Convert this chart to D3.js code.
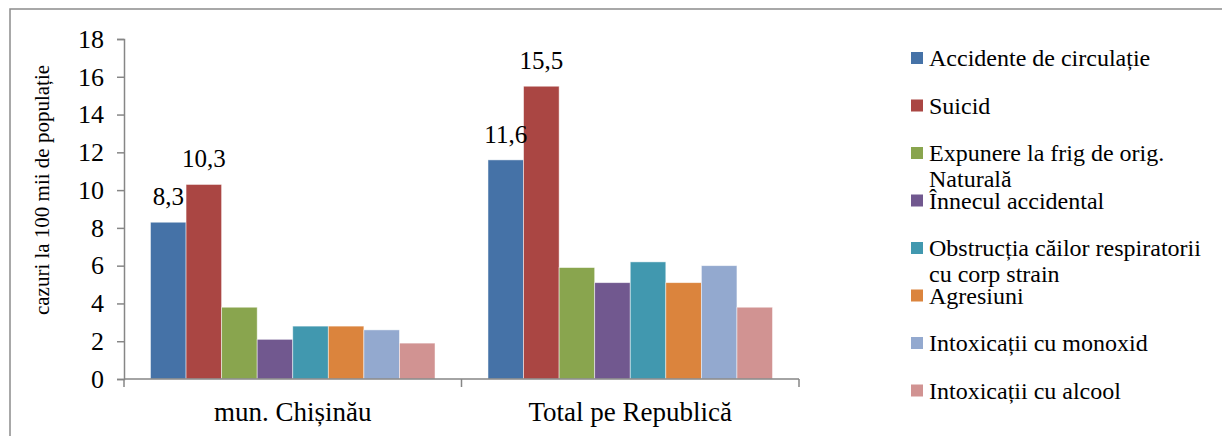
<!DOCTYPE html>
<html>
<head>
<meta charset="utf-8">
<script src="https://cdn.jsdelivr.net/npm/d3@7"></script>
<style>
  html, body { margin: 0; padding: 0; background: #fff; }
  svg { display: block; }
</style>
</head>
<body>
<svg id="s" width="1222" height="436"></svg>
<script>
// Death causes by external factors, cases per 100 thousand population
const categories = ["mun. Chișinău", "Total pe Republică"];
// legend lines (long names wrap onto two lines)
const seriesLines = [
  ["Accidente de circulație"],
  ["Suicid"],
  ["Expunere la frig de orig.", "Naturală"],
  ["Înnecul accidental"],
  ["Obstrucția căilor respiratorii", "cu corp strain"],
  ["Agresiuni"],
  ["Intoxicații cu monoxid"],
  ["Intoxicații cu alcool"]
];
const chisinau = [8.3, 10.3, 3.8, 2.1, 2.8, 2.8, 2.6, 1.9];
const republica = [11.6, 15.5, 5.9, 5.1, 6.2, 5.1, 6.0, 3.8];
// only the two leading series carry value labels
const labelledSeries = [0, 1];
const yTicks = [0, 2, 4, 6, 8, 10, 12, 14, 16, 18];
const yTitle = "cazuri la 100 mii de populație";
const colors = ["#4572A7", "#AA4643", "#89A54E", "#71588F", "#4198AF", "#DB843D", "#93A9CF", "#D19392"];

const values = [chisinau, republica];
const svg = d3.select("#s").attr("font-family", "Liberation Serif");
const axisColor = "#868686";

// every label gets the serif face both as attribute and inline style
function serif(sel, size) {
  return sel.attr("font-family", "Liberation Serif")
    .style("font-family", "Liberation Serif")
    .style("font-size", size + "px")
    .attr("fill", "#000");
}

// outer frame
svg.append("rect")
  .attr("x", 10).attr("y", 9)
  .attr("width", 1230).attr("height", 440)
  .attr("fill", "none").attr("stroke", "#8c8c8c").attr("stroke-width", 1.5);

const plot = { left: 124, right: 799, top: 39, bottom: 379 };

const y = d3.scaleLinear().domain([0, 18]).range([plot.bottom, plot.top]);
const x0 = d3.scaleBand().domain(categories).range([plot.left, plot.right])
  .paddingInner(0.157).paddingOuter(0.0785);
const x1 = d3.scaleBand().domain(d3.range(seriesLines.length)).range([0, x0.bandwidth()]);

// bars
const groups = svg.append("g").selectAll("g")
  .data(categories)
  .join("g")
  .attr("transform", d => `translate(${x0(d)},0)`);

groups.selectAll("rect")
  .data((d, ci) => values[ci].map((v, si) => ({ v, si })))
  .join("rect")
  .attr("x", d => x1(d.si))
  .attr("y", d => y(d.v))
  .attr("width", x1.bandwidth())
  .attr("height", d => y(0) - y(d.v))
  .attr("fill", d => colors[d.si])
  .attr("stroke", "#ffffff")
  .attr("stroke-opacity", 0.6)
  .attr("stroke-width", 0.8);

// value labels
serif(groups.selectAll("text.val")
  .data((d, ci) => labelledSeries.map(si => ({ v: values[ci][si], si })))
  .join("text")
  .attr("class", "val")
  .attr("x", d => x1(d.si) + x1.bandwidth() / 2)
  .attr("y", d => y(d.v) - 17)
  .attr("text-anchor", "middle")
  .text(d => d3.format(".1f")(d.v).replace(".", ",")), 25);

// y axis
const yAxis = svg.append("g")
  .attr("transform", `translate(${plot.left},0)`)
  .call(d3.axisLeft(y).tickValues(yTicks).tickSize(7).tickPadding(13).tickFormat(d3.format("d")));
yAxis.attr("font-family", "Liberation Serif").attr("font-size", 26);
yAxis.select(".domain").attr("stroke", axisColor).attr("stroke-width", 1.5);
yAxis.selectAll(".tick line").attr("stroke", axisColor).attr("stroke-width", 1.5);
serif(yAxis.selectAll(".tick text"), 26);

// x axis: baseline with tick marks at category boundaries
const xg = svg.append("g");
xg.append("line")
  .attr("x1", plot.left).attr("x2", plot.right)
  .attr("y1", y(0)).attr("y2", y(0))
  .attr("stroke", axisColor).attr("stroke-width", 1.5);
const boundaries = [plot.left, ...categories.map(c => x0(c) + x0.bandwidth() + x0.step() * x0.paddingInner() / 2)];
xg.selectAll("line.tk")
  .data(boundaries)
  .join("line")
  .attr("class", "tk")
  .attr("x1", d => d).attr("x2", d => d)
  .attr("y1", y(0)).attr("y2", y(0) + 8)
  .attr("stroke", axisColor).attr("stroke-width", 1.5);
serif(xg.selectAll("text")
  .data(categories)
  .join("text")
  .attr("x", d => x0(d) + x0.bandwidth() / 2)
  .attr("y", 421)
  .attr("text-anchor", "middle")
  .text(d => d), 27);

// y axis title
serif(svg.append("text")
  .attr("transform", `translate(49,190) rotate(-90)`)
  .attr("text-anchor", "middle")
  .text(yTitle), 21);

// legend
const item = svg.append("g").selectAll("g")
  .data(seriesLines)
  .join("g")
  .attr("transform", (d, i) => `translate(911,${58 + i * 47.5})`);
item.append("rect")
  .attr("x", 0).attr("y", -6)
  .attr("width", 12).attr("height", 12)
  .attr("fill", (d, i) => colors[i]);
serif(item.append("text")
  .attr("x", 18)
  .attr("y", 8), 24)
  .selectAll("tspan")
  .data(d => d)
  .join("tspan")
  .attr("x", 18)
  .attr("dy", (d, i) => i === 0 ? 0 : 26)
  .text(d => d);
</script>
</body>
</html>
